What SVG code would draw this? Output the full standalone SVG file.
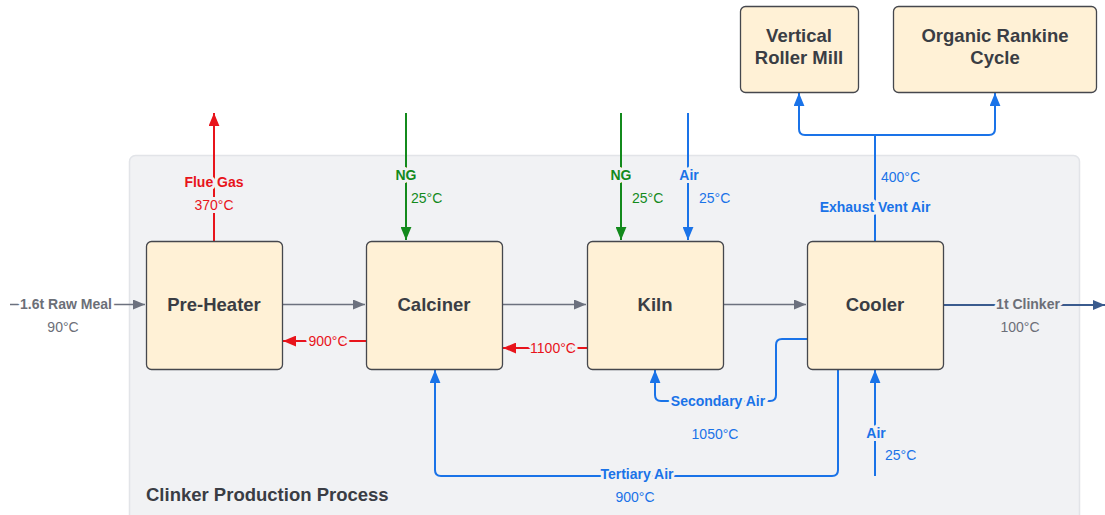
<svg xmlns="http://www.w3.org/2000/svg" width="1105" height="515" viewBox="0 0 1105 515">
<style>
.node rect{fill:#fff1d6;stroke:#45474d;stroke-width:1.3}
.title{font-family:"Liberation Sans",Arial,sans-serif;font-weight:bold;font-size:18.5px;fill:#3a3d44;text-anchor:middle}
.lbl{font-family:"Liberation Sans",Arial,sans-serif;font-size:14px;text-anchor:middle;paint-order:stroke;stroke:#f1f2f4;stroke-width:6;stroke-linejoin:round}
.b{font-weight:bold}
.w{stroke:#ffffff}
.st{text-anchor:start;stroke:none}
.red{fill:#e8141b}.grn{fill:#138a1c}.blu{fill:#1a73e8}.gry{fill:#6c6f78}
.c{fill:none;stroke-width:2}
</style>
<defs>
<marker id="aR" viewBox="0 0 12 10" refX="12" refY="5" markerWidth="13" markerHeight="11" markerUnits="userSpaceOnUse" orient="auto"><path d="M0,0 L12,5 L0,10 Z" fill="#e8141b"/></marker>
<marker id="aG" viewBox="0 0 12 10" refX="12" refY="5" markerWidth="13" markerHeight="11" markerUnits="userSpaceOnUse" orient="auto"><path d="M0,0 L12,5 L0,10 Z" fill="#138a1c"/></marker>
<marker id="aB" viewBox="0 0 12 10" refX="12" refY="5" markerWidth="13" markerHeight="11" markerUnits="userSpaceOnUse" orient="auto"><path d="M0,0 L12,5 L0,10 Z" fill="#1a73e8"/></marker>
<marker id="aY" viewBox="0 0 12 10" refX="12" refY="5" markerWidth="13" markerHeight="10" markerUnits="userSpaceOnUse" orient="auto"><path d="M0,0 L12,5 L0,10 Z" fill="#6c717e"/></marker>
<marker id="aN" viewBox="0 0 12 10" refX="12" refY="5" markerWidth="12" markerHeight="10" markerUnits="userSpaceOnUse" orient="auto"><path d="M0,0 L12,5 L0,10 Z" fill="#3a5b8e"/></marker>
</defs>
<rect width="1105" height="515" fill="#ffffff"/>
<g id="container">
<rect x="129.5" y="155.5" width="950" height="380" rx="6" fill="#f1f2f4" stroke="#e2e4e8" stroke-width="1.5"/>
<text x="146" y="501" class="title" style="text-anchor:start">Clinker Production Process</text>
</g>
<g id="connectors">
<line x1="10" y1="304.5" x2="145" y2="304.5" stroke="#6c717e" stroke-width="1.5" marker-end="url(#aY)"/>
<line x1="283" y1="304.5" x2="365" y2="304.5" stroke="#6c717e" stroke-width="1.5" marker-end="url(#aY)"/>
<line x1="503" y1="304.5" x2="586" y2="304.5" stroke="#6c717e" stroke-width="1.5" marker-end="url(#aY)"/>
<line x1="724" y1="304.5" x2="806" y2="304.5" stroke="#6c717e" stroke-width="1.5" marker-end="url(#aY)"/>
<line x1="944" y1="305" x2="1105" y2="305" stroke="#3a5b8e" stroke-width="2" marker-end="url(#aN)"/>
<line x1="214" y1="241" x2="214" y2="113" class="c" stroke="#e8141b" marker-end="url(#aR)"/>
<line x1="366" y1="341" x2="283" y2="341" class="c" stroke="#e8141b" marker-end="url(#aR)"/>
<line x1="587" y1="348" x2="503" y2="348" class="c" stroke="#e8141b" marker-end="url(#aR)"/>
<line x1="406" y1="113" x2="406" y2="240" class="c" stroke="#138a1c" marker-end="url(#aG)"/>
<line x1="621" y1="113" x2="621" y2="240" class="c" stroke="#138a1c" marker-end="url(#aG)"/>
<line x1="688" y1="113" x2="688" y2="240" class="c" stroke="#1a73e8" marker-end="url(#aB)"/>
<path d="M875,241 V135" class="c" stroke="#1a73e8"/>
<path d="M875,135 H805 Q799,135 799,129 V93" class="c" stroke="#1a73e8" marker-end="url(#aB)"/>
<path d="M875,135 H989 Q995,135 995,129 V93" class="c" stroke="#1a73e8" marker-end="url(#aB)"/>
<path d="M807,339 H782 Q776,339 776,345 V395 Q776,401 770,401 H661 Q655,401 655,395 V370" class="c" stroke="#1a73e8" marker-end="url(#aB)"/>
<path d="M838,369 V470 Q838,476 832,476 H441 Q435,476 435,470 V370" class="c" stroke="#1a73e8" marker-end="url(#aB)"/>
<line x1="875" y1="476" x2="875" y2="370" class="c" stroke="#1a73e8" marker-end="url(#aB)"/>
</g>
<g id="labels">
<text x="66" y="309" class="lbl b gry w">1.6t Raw Meal</text>
<text x="63" y="332" class="lbl gry w">90°C</text>
<text x="214" y="187" class="lbl b red">Flue Gas</text>
<text x="214" y="210" class="lbl red">370°C</text>
<text x="328" y="345.5" class="lbl red">900°C</text>
<text x="553" y="352.5" class="lbl red">1100°C</text>
<text x="406" y="180" class="lbl b grn">NG</text>
<text x="411" y="203" class="lbl grn st">25°C</text>
<text x="621" y="180" class="lbl b grn">NG</text>
<text x="632" y="203" class="lbl grn st">25°C</text>
<text x="689" y="180" class="lbl b blu">Air</text>
<text x="699" y="203" class="lbl blu st">25°C</text>
<text x="881" y="182" class="lbl blu st">400°C</text>
<text x="875" y="212" class="lbl b blu">Exhaust Vent Air</text>
<text x="1028" y="309" class="lbl b gry">1t Clinker</text>
<text x="1020" y="332" class="lbl gry">100°C</text>
<text x="718" y="406" class="lbl b blu">Secondary Air</text>
<text x="715" y="439" class="lbl blu">1050°C</text>
<text x="637" y="479" class="lbl b blu">Tertiary Air</text>
<text x="635" y="502" class="lbl blu">900°C</text>
<text x="876" y="438" class="lbl b blu">Air</text>
<text x="885" y="460" class="lbl blu st">25°C</text>
</g>
<g id="preheater" class="node"><rect x="146.5" y="241.5" width="136" height="128" rx="5"/><text x="214" y="311" class="title">Pre-Heater</text></g>
<g id="calciner" class="node"><rect x="366.5" y="241.5" width="136" height="128" rx="5"/><text x="434" y="311" class="title">Calciner</text></g>
<g id="kiln" class="node"><rect x="587.5" y="241.5" width="136" height="128" rx="5"/><text x="655" y="311" class="title">Kiln</text></g>
<g id="cooler" class="node"><rect x="807.5" y="241.5" width="136" height="128" rx="5"/><text x="875" y="311" class="title">Cooler</text></g>
<g id="vrm" class="node"><rect x="740.5" y="6.5" width="118" height="86" rx="5"/><text x="799" y="42" class="title">Vertical</text><text x="799" y="64" class="title">Roller Mill</text></g>
<g id="orc" class="node"><rect x="893.5" y="6.5" width="203" height="86" rx="5"/><text x="995" y="42" class="title">Organic Rankine</text><text x="995" y="64" class="title">Cycle</text></g>
</svg>
